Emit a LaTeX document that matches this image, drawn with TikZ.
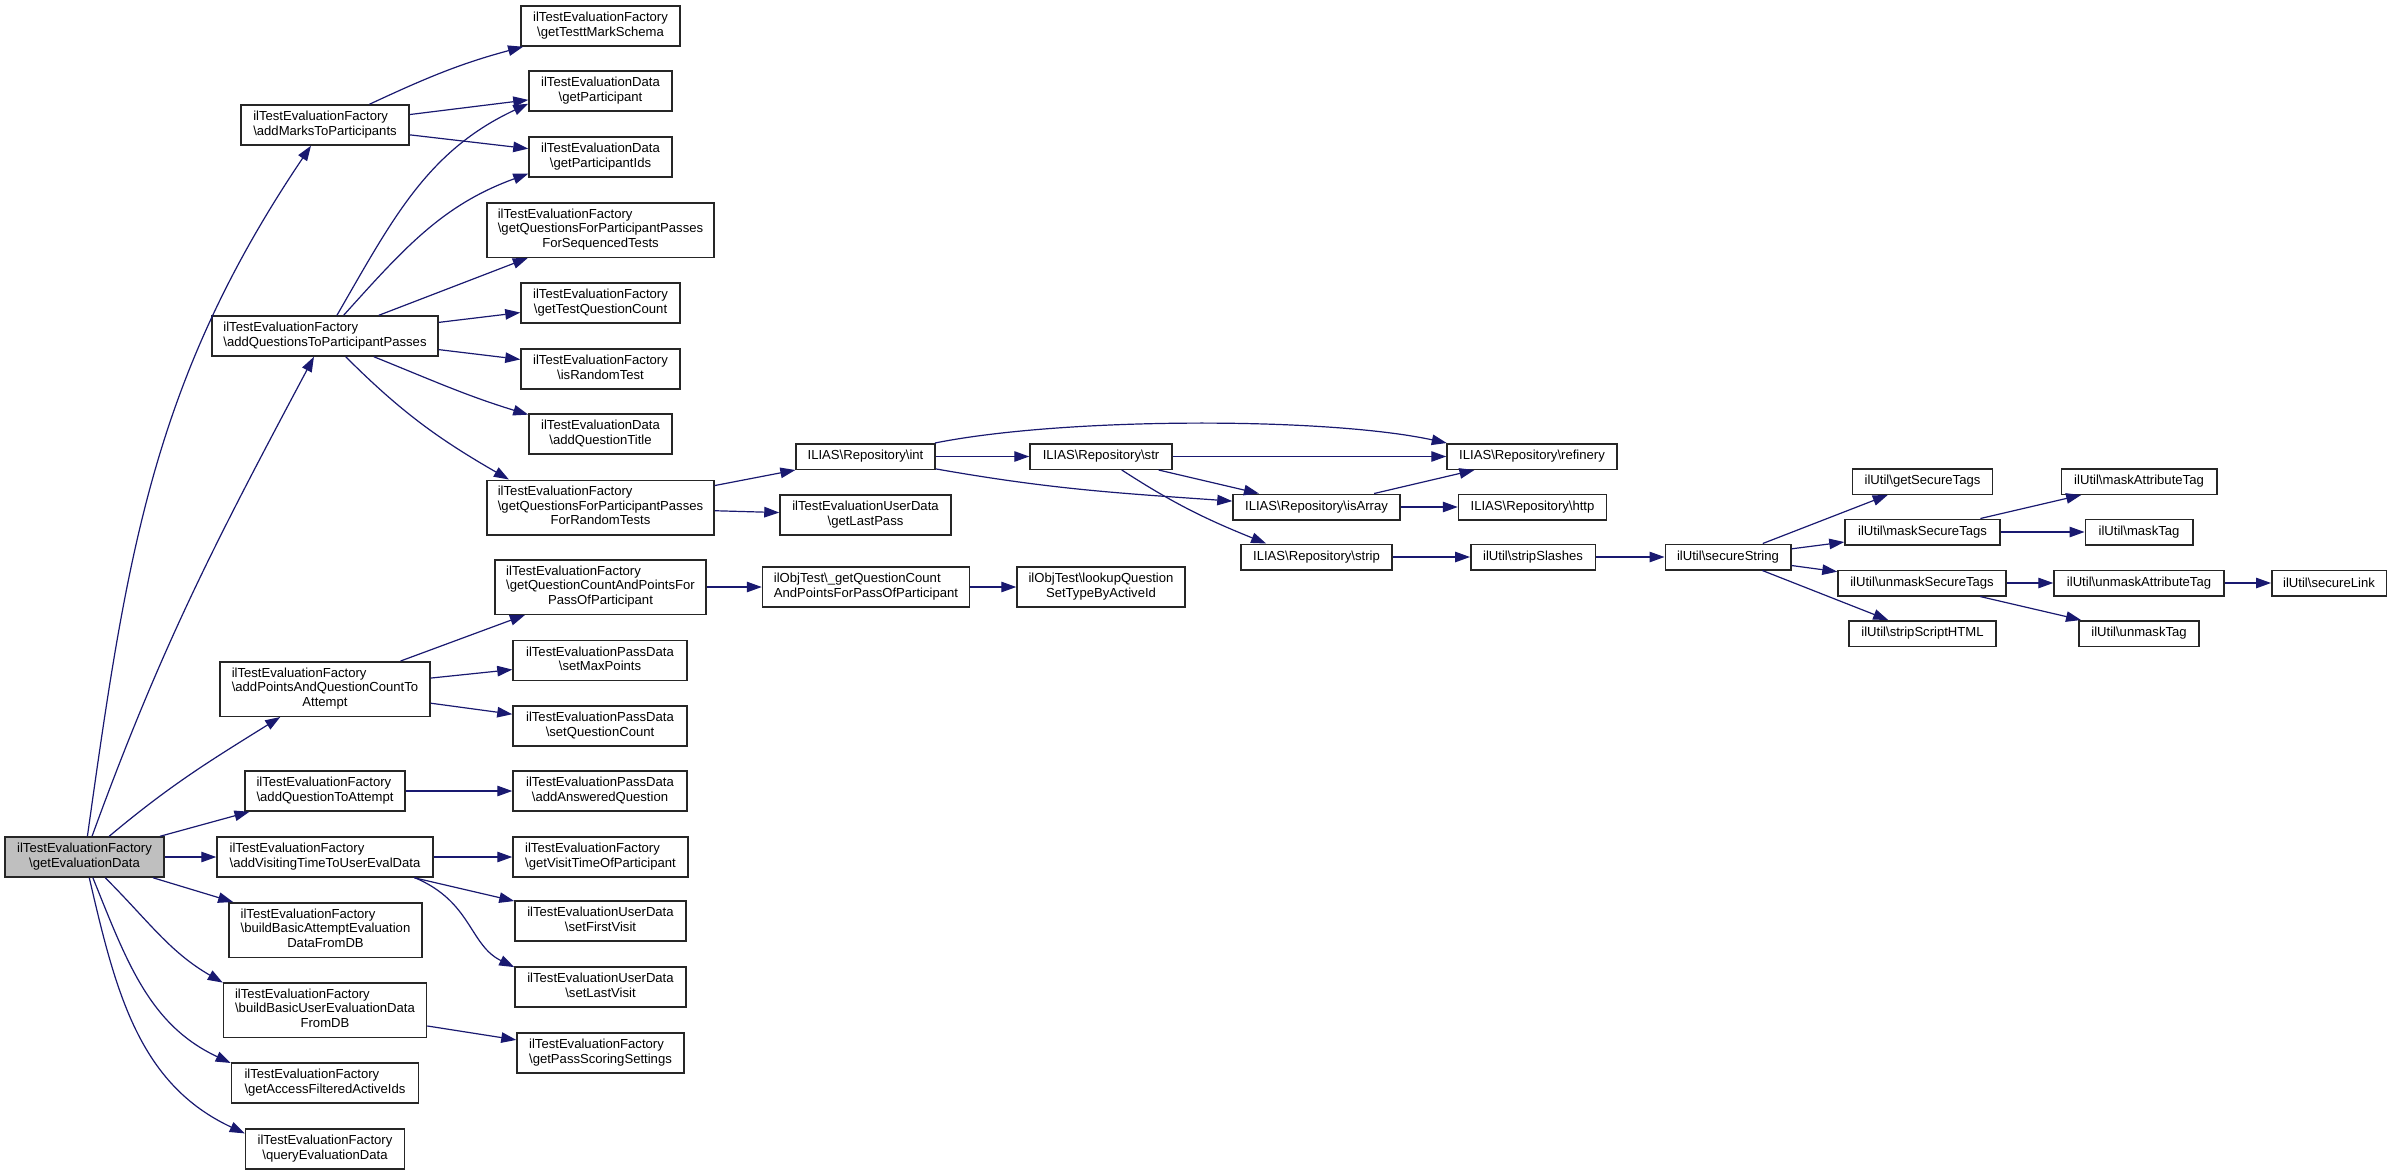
\documentclass[tikz,border=0pt]{standalone}
\usepackage{fontspec}
\setmainfont{Liberation Sans}
\usepackage{tikz}
\usetikzlibrary{arrows.meta}
\usepackage{xcolor}
\definecolor{edgeblue}{RGB}{25,25,112}
\definecolor{rootgray}{RGB}{191,191,191}
\newcommand{\bsl}{\textbackslash}
% first lines flush left, last line centred
\newcommand{\callname}[2]{\begin{tabular}{@{}l@{}}#1\\\multicolumn{1}{@{}c@{}}{#2}\end{tabular}}

\begin{document}
\begin{tikzpicture}[x=1pt, y=1pt,
  fn/.style={draw=black!85, line width=1.5pt, fill=white, inner sep=0pt,
    minimum width=#1, font=\fontsize{13.1}{14.5}\selectfont},
  one line/.style={minimum height=25.5pt},
  two lines/.style={minimum height=40pt},
  three lines/.style={minimum height=54.5pt},
  callarrow/.style={draw=edgeblue, line width=1.2pt, -{Triangle[length=15pt,width=10.5pt]}}]
  \fill[white] (0,0) rectangle (2392,-1175);

  % caller and its direct callees
  \node[fn=159pt, two lines, fill=rootgray] (root) at (84.5,-857) {\callname{ilTestEvaluationFactory}{\bsl getEvaluationData}};
  \node[fn=168pt, two lines] (marks) at (325,-125) {\callname{ilTestEvaluationFactory}{\bsl addMarksToParticipants}};
  \node[fn=226pt, two lines] (qpasses) at (325,-336) {\callname{ilTestEvaluationFactory}{\bsl addQuestionsToParticipantPasses}};
  \node[fn=210pt, three lines] (points) at (325,-689) {\callname{ilTestEvaluationFactory\\\bsl addPointsAndQuestionCountTo}{Attempt}};
  \node[fn=160pt, two lines] (qattempt) at (325,-791) {\callname{ilTestEvaluationFactory}{\bsl addQuestionToAttempt}};
  \node[fn=216pt, two lines] (visiting) at (325,-857) {\callname{ilTestEvaluationFactory}{\bsl addVisitingTimeToUserEvalData}};
  \node[fn=193pt, three lines] (basicattempt) at (325.5,-930) {\callname{ilTestEvaluationFactory\\\bsl buildBasicAttemptEvaluation}{DataFromDB}};
  \node[fn=203pt, three lines] (basicuser) at (325,-1010) {\callname{ilTestEvaluationFactory\\\bsl buildBasicUserEvaluationData}{FromDB}};
  \node[fn=187pt, two lines] (filtered) at (325,-1083) {\callname{ilTestEvaluationFactory}{\bsl getAccessFilteredActiveIds}};
  \node[fn=159pt, two lines] (query) at (325,-1149) {\callname{ilTestEvaluationFactory}{\bsl queryEvaluationData}};

  % second level
  \node[fn=159pt, two lines] (markschema) at (600.5,-26) {\callname{ilTestEvaluationFactory}{\bsl getTesttMarkSchema}};
  \node[fn=143pt, two lines] (participant) at (600.5,-91) {\callname{ilTestEvaluationData}{\bsl getParticipant}};
  \node[fn=143pt, two lines] (participantids) at (600.5,-157) {\callname{ilTestEvaluationData}{\bsl getParticipantIds}};
  \node[fn=227pt, three lines] (seqtests) at (600.5,-230) {\callname{ilTestEvaluationFactory\\\bsl getQuestionsForParticipantPasses}{ForSequencedTests}};
  \node[fn=159pt, two lines] (qcount) at (600.5,-303) {\callname{ilTestEvaluationFactory}{\bsl getTestQuestionCount}};
  \node[fn=159pt, two lines] (random) at (600.5,-369) {\callname{ilTestEvaluationFactory}{\bsl isRandomTest}};
  \node[fn=143pt, two lines] (qtitle) at (600.5,-434) {\callname{ilTestEvaluationData}{\bsl addQuestionTitle}};
  \node[fn=227pt, three lines] (randtests) at (600.5,-507.5) {\callname{ilTestEvaluationFactory\\\bsl getQuestionsForParticipantPasses}{ForRandomTests}};
  \node[fn=211pt, three lines] (countpoints) at (600.5,-587) {\callname{ilTestEvaluationFactory\\\bsl getQuestionCountAndPointsFor}{PassOfParticipant}};
  \node[fn=174pt, two lines] (maxpoints) at (600,-660.5) {\callname{ilTestEvaluationPassData}{\bsl setMaxPoints}};
  \node[fn=174pt, two lines] (setqcount) at (600,-726) {\callname{ilTestEvaluationPassData}{\bsl setQuestionCount}};
  \node[fn=174pt, two lines] (answered) at (600,-791) {\callname{ilTestEvaluationPassData}{\bsl addAnsweredQuestion}};
  \node[fn=175pt, two lines] (visittime) at (600.5,-857) {\callname{ilTestEvaluationFactory}{\bsl getVisitTimeOfParticipant}};
  \node[fn=171pt, two lines] (firstvisit) at (600.5,-921) {\callname{ilTestEvaluationUserData}{\bsl setFirstVisit}};
  \node[fn=171pt, two lines] (lastvisit) at (600.5,-987) {\callname{ilTestEvaluationUserData}{\bsl setLastVisit}};
  \node[fn=167pt, two lines] (scoring) at (600.5,-1053) {\callname{ilTestEvaluationFactory}{\bsl getPassScoringSettings}};

  % repository and ilObjTest calls
  \node[fn=139pt, one line] (repoint) at (865.5,-456.5) {ILIAS\bsl Repository\bsl int};
  \node[fn=171pt, two lines] (lastpass) at (865.5,-515) {\callname{ilTestEvaluationUserData}{\bsl getLastPass}};
  \node[fn=207pt, two lines] (objcount) at (866,-587) {\callname{ilObjTest\bsl\_getQuestionCount}{AndPointsForPassOfParticipant}};
  \node[fn=142pt, one line] (repostr) at (1101,-456.5) {ILIAS\bsl Repository\bsl str};
  \node[fn=168pt, two lines] (lookup) at (1101,-587) {\callname{ilObjTest\bsl lookupQuestion}{SetTypeByActiveId}};
  \node[fn=167pt, one line] (repoarray) at (1316.5,-507) {ILIAS\bsl Repository\bsl isArray};
  \node[fn=151pt, one line] (repostrip) at (1316.5,-557) {ILIAS\bsl Repository\bsl strip};
  \node[fn=170pt, one line] (reporefinery) at (1532,-456.5) {ILIAS\bsl Repository\bsl refinery};
  \node[fn=148pt, one line] (repohttp) at (1532.5,-507) {ILIAS\bsl Repository\bsl http};

  % ilUtil chain
  \node[fn=124.5pt, one line] (stripslashes) at (1533,-557) {ilUtil\bsl stripSlashes};
  \node[fn=125.5pt, one line] (securestring) at (1728,-557) {ilUtil\bsl secureString};
  \node[fn=140pt, one line] (getsecure) at (1922.5,-481.5) {ilUtil\bsl getSecureTags};
  \node[fn=155pt, one line] (masksecure) at (1922.5,-532) {ilUtil\bsl maskSecureTags};
  \node[fn=168pt, one line] (unmasksecure) at (1922,-583) {ilUtil\bsl unmaskSecureTags};
  \node[fn=147pt, one line] (stripscript) at (1922.5,-633.5) {ilUtil\bsl stripScriptHTML};
  \node[fn=155.5pt, one line] (maskattr) at (2139,-481.5) {ilUtil\bsl maskAttributeTag};
  \node[fn=107.5pt, one line] (masktag) at (2139,-532) {ilUtil\bsl maskTag};
  \node[fn=170pt, one line] (unmaskattr) at (2139,-583) {ilUtil\bsl unmaskAttributeTag};
  \node[fn=120pt, one line] (unmasktag) at (2139,-633.5) {ilUtil\bsl unmaskTag};
  \node[fn=114.5pt, one line] (securelink) at (2329,-583) {ilUtil\bsl secureLink};

  % straight calls
  \foreach \a/\b in {root/visiting, root/qattempt, root/basicattempt,
      marks/participant, marks/participantids,
      qpasses/seqtests, qpasses/qcount, qpasses/random,
      randtests/repoint, randtests/lastpass,
      points/countpoints, points/maxpoints, points/setqcount,
      countpoints/objcount, objcount/lookup, qattempt/answered,
      visiting/visittime, visiting/firstvisit, basicuser/scoring,
      repoint/repostr, repostr/reporefinery, repostr/repoarray,
      repoarray/reporefinery, repoarray/repohttp,
      repostrip/stripslashes, stripslashes/securestring,
      securestring/getsecure, securestring/masksecure,
      securestring/unmasksecure, securestring/stripscript,
      masksecure/maskattr, masksecure/masktag,
      unmasksecure/unmaskattr, unmasksecure/unmasktag,
      unmaskattr/securelink}{
    \draw[callarrow] (\a) -- (\b);
  }

  % bent calls
  \draw[callarrow] (root) to[out=82,in=236] (marks);
  \draw[callarrow] (root) to[out=70,in=242] (qpasses);
  \draw[callarrow] (root) to[out=40,in=212] (points);
  \draw[callarrow] (root) to[out=-45,in=150] (basicuser.165);
  \draw[callarrow] (root) to[out=-68,in=155] (filtered.168);
  \draw[callarrow] (root) to[out=-77,in=155] (query.169);
  \draw[callarrow] (marks) to[out=25,in=195] (markschema);
  \draw[callarrow] (qpasses) to[out=60,in=205] (participant.190);
  \draw[callarrow] (qpasses) to[out=48,in=200] (participantids.193);
  \draw[callarrow] (qpasses.-23) to[out=-22,in=163] (qtitle.165);
  \draw[callarrow] (qpasses) to[out=-45,in=150] (randtests.163);
  \draw[callarrow] (visiting.-13) .. controls +(57,-24) and +(-45,22) .. (lastvisit.167);
  \draw[callarrow] (repoint.11) .. controls +(130,26) and +(-120,26) .. (reporefinery.171);
  \draw[callarrow] (repoint.-10) to[out=-10,in=176] (repoarray.176);
  \draw[callarrow] (repostr.-33) to[out=-33,in=158] (repostrip.165);
\end{tikzpicture}
\end{document}
